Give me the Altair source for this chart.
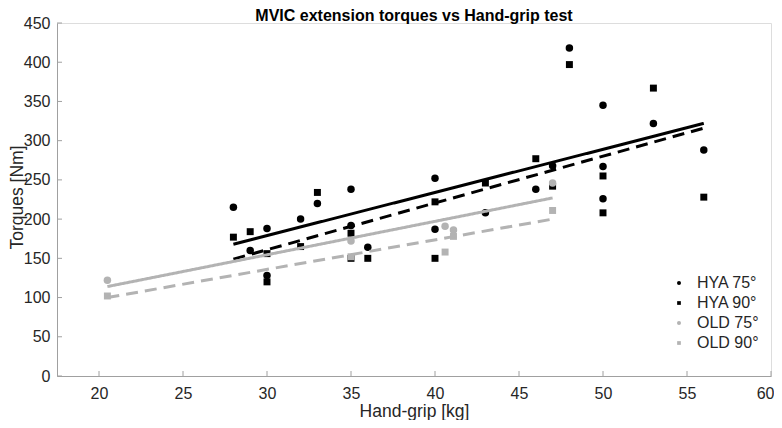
import altair as alt
import pandas as pd

# ---- data ----
series = ["HYA 75°", "HYA 90°", "OLD 75°", "OLD 90°"]

hya75_x = [28, 29, 30, 30, 32, 33, 35, 35, 36, 40, 40, 43, 46, 47, 48, 50, 50, 50, 53, 56]
hya75_y = [215, 160, 188, 128, 200, 220, 238, 192, 164, 252, 187, 208, 238, 268, 418, 345, 267, 226, 322, 288]

hya90_x = [28, 29, 30, 30, 32, 33, 35, 35, 36, 40, 40, 43, 46, 47, 48, 50, 50, 53, 56]
hya90_y = [177, 184, 156, 120, 165, 234, 182, 150, 150, 222, 150, 246, 277, 242, 397, 255, 208, 367, 228]

old75_x = [20.5, 35, 40.6, 41.1, 47]
old75_y = [122, 172, 191, 186, 246]

old90_x = [20.5, 35, 40.6, 41.1, 47]
old90_y = [102, 152, 158, 178, 211]

# regression line end points
fit_x = {"HYA 75°": [28, 56], "HYA 90°": [28, 56], "OLD 75°": [20.5, 47], "OLD 90°": [20.5, 47]}
fit_y = {"HYA 75°": [168, 322], "HYA 90°": [149, 316], "OLD 75°": [114, 227], "OLD 90°": [100, 200]}

x_ticks = [20, 25, 30, 35, 40, 45, 50, 55, 60]
y_ticks = [0, 50, 100, 150, 200, 250, 300, 350, 400, 450]

# ---- tables ----
pts = pd.concat([
    pd.DataFrame({"x": hya75_x, "y": hya75_y, "series": series[0]}),
    pd.DataFrame({"x": hya90_x, "y": hya90_y, "series": series[1]}),
    pd.DataFrame({"x": old75_x, "y": old75_y, "series": series[2]}),
    pd.DataFrame({"x": old90_x, "y": old90_y, "series": series[3]}),
], ignore_index=True)
pts["order"] = range(len(pts))

lines = pd.concat([
    pd.DataFrame({"x": fit_x[s], "y": fit_y[s], "series": s}) for s in series
], ignore_index=True)

xt = pd.DataFrame({"x": x_ticks})
yt = pd.DataFrame({"y": y_ticks})

W, H = 714, 353
BLACK = "#000000"
GRAY = "#b3b3b3"
FONT = "Liberation Sans"
TXT = "#262626"
AXC = "#a0a0a0"
SQUARE = "M-0.93,-0.93H0.93V0.93H-0.93Z"

xscale = alt.Scale(domain=[17.5, 60], nice=False, zero=False)
yscale = alt.Scale(domain=[0, 450], nice=False)

xaxis = alt.Axis(values=x_ticks, tickSize=0, ticks=False, labelPadding=9, labelFontSize=16,
                 labelFont=FONT, labelColor=TXT, domainColor=AXC, grid=False,
                 labelOverlap=False, labelFlush=True, labelFlushOffset=3,
                 title="Hand-grip [kg]", titleFont=FONT, titleFontSize=17.5,
                 titleFontWeight="normal", titleColor=TXT,
                 titleX=W / 2, titleY=40, titleBaseline="alphabetic", titleAlign="center")
yaxis = alt.Axis(values=y_ticks, tickSize=0, ticks=False, labelPadding=7, labelFontSize=16,
                 labelFont=FONT, labelColor=TXT, domainColor=AXC, grid=False,
                 labelOverlap=False, labelFlush=False,
                 title="Torques [Nm]", titleFont=FONT, titleFontSize=17.5,
                 titleFontWeight="normal", titleColor=TXT,
                 titleX=-35, titleY=174, titleAngle=270, titleBaseline="alphabetic",
                 titleAlign="center")

X = alt.X("x:Q", scale=xscale, axis=xaxis)
Y = alt.Y("y:Q", scale=yscale, axis=yaxis)

points = alt.Chart(pts).mark_point(filled=True, opacity=1, strokeWidth=0, size=56).encode(
    x=X, y=Y,
    color=alt.Color("series:N",
                    scale=alt.Scale(domain=series, range=[BLACK, BLACK, GRAY, GRAY]),
                    legend=alt.Legend(title=None, orient="none", legendX=614, legendY=252,
                                      labelFont=FONT, labelFontSize=16, labelColor=TXT,
                                      symbolSize=16, labelOffset=10, rowPadding=4,
                                      padding=0, symbolStrokeWidth=0)),
    shape=alt.Shape("series:N",
                    scale=alt.Scale(domain=series, range=["circle", SQUARE, "circle", SQUARE])),
    order=alt.Order("order:Q"),
)

fits = alt.Chart(lines).mark_line(strokeWidth=3).encode(
    x=X, y=Y,
    color=alt.Color("series:N",
                    scale=alt.Scale(domain=series, range=[BLACK, BLACK, GRAY, GRAY]),
                    legend=None),
    strokeDash=alt.StrokeDash("series:N",
                              scale=alt.Scale(domain=series,
                                              range=[[1, 0], [12, 7], [1, 0], [12, 7]]),
                              legend=None),
    detail="series:N",
)

xtick_marks = alt.Chart(xt).mark_rule(color=AXC, strokeWidth=1).encode(
    x=X,
    y=alt.value(H), y2=alt.value(H - 5),
)
ytick_marks = alt.Chart(yt).mark_rule(color=AXC, strokeWidth=1).encode(
    y=Y,
    x=alt.value(0), x2=alt.value(5),
)

chart = alt.layer(points, fits, xtick_marks, ytick_marks).resolve_scale(
    color="independent", strokeDash="independent", shape="independent"
).properties(
    width=W, height=H,
    title=alt.Title("MVIC extension torques vs Hand-grip test", font=FONT, fontSize=16,
                    fontWeight="bold", color="#000000", anchor="middle", frame="group",
                    offset=-9),
    autosize=alt.AutoSizeParams(type="none"),
    padding={"left": 49, "top": 15, "right": 3, "bottom": 44},
).configure_view(strokeWidth=0).configure(background="white")

chart.save("out.html", embed_options={"renderer": "svg", "actions": False})
